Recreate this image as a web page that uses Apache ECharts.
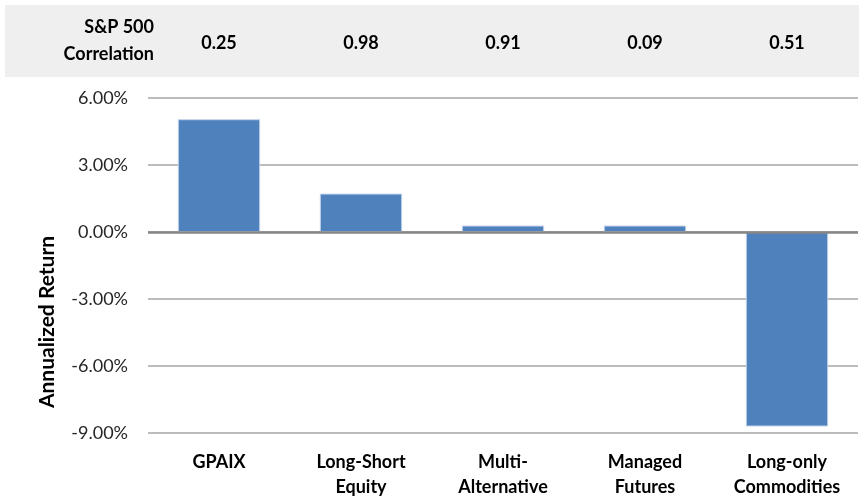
<!DOCTYPE html>
<html>
<head>
<meta charset="utf-8">
<script src="https://cdn.jsdelivr.net/npm/echarts@6/dist/echarts.min.js"></script>
<style>
  html, body { margin: 0; padding: 0; background: #fff; }
  #chart { width: 859px; height: 497px; }
</style>
</head>
<body>
<div id="chart"></div>
<script>
const categories = ["GPAIX", "Long-Short\nEquity", "Multi-\nAlternative", "Managed\nFutures", "Long-only\nCommodities"];
const annualizedReturn = [5.05, 1.72, 0.29, 0.29, -8.71];
const sp500Correlation = ["0.25", "0.98", "0.91", "0.09", "0.51"];
const yTicks = { min: -9, max: 6, interval: 3 };

const font = "Lato, 'Open Sans', sans-serif";
const chart = echarts.init(document.getElementById("chart"), null, { renderer: "canvas" });

chart.setOption({
  animation: false,
  textStyle: { fontFamily: font },
  grid: { left: 148, right: 1, top: 98, bottom: 64, outerBoundsMode: "none", containLabel: false },
  graphic: [
    {
      type: "rect", z: -10, silent: true,
      shape: { x: 5, y: 5, width: 854, height: 72 },
      style: { fill: "#efefef" }
    },
    {
      type: "text", silent: true, x: 154, y: 41,
      style: {
        text: "S&P 500\nCorrelation", align: "right", verticalAlign: "middle",
        font: "bold 18px " + font, lineHeight: 27, fill: "#000"
      }
    },
    {
      type: "text", silent: true, x: 47, y: 322, rotation: Math.PI / 2,
      style: {
        text: "Annualized Return", align: "center", verticalAlign: "middle",
        font: "bold 21px " + font, fill: "#000"
      }
    }
  ],
  xAxis: [
    {
      type: "category",
      data: categories,
      position: "bottom",
      axisLine: { show: false, onZero: false },
      axisTick: { show: false },
      axisLabel: {
        margin: 17, fontSize: 18, fontWeight: "bold", color: "#000",
        lineHeight: 25, interval: 0
      }
    },
    {
      type: "category",
      data: sp500Correlation,
      position: "top",
      axisLine: { show: false },
      axisTick: { show: false },
      axisLabel: { margin: 46, fontSize: 18, fontWeight: "bold", color: "#000", interval: 0 }
    }
  ],
  yAxis: {
    type: "value",
    min: yTicks.min, max: yTicks.max, interval: yTicks.interval,
    axisLine: { show: false },
    axisTick: { show: false },
    axisLabel: {
      margin: 20, fontSize: 18, color: "#262626",
      formatter: v => v.toFixed(2) + "%"
    },
    splitLine: { lineStyle: { color: "#a6a6a6", width: 1.5 } }
  },
  series: [
    {
      type: "bar",
      data: annualizedReturn,
      barWidth: "58%",
      itemStyle: { color: "#4f81bd", borderColor: "#c3d3ea", borderWidth: 1 },
      markLine: {
        silent: true, symbol: "none", label: { show: false },
        lineStyle: { type: "solid", color: "#868686", width: 2.5 },
        data: [{ yAxis: 0 }]
      }
    }
  ]
});
</script>
</body>
</html>
